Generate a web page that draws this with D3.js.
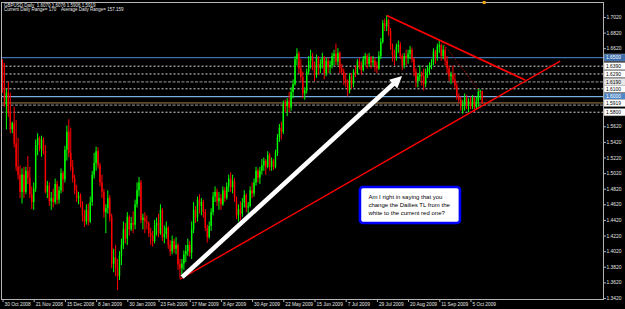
<!DOCTYPE html>
<html>
<head>
<meta charset="utf-8">
<script src="https://cdn.jsdelivr.net/npm/d3@7"></script>
<style>
body { margin: 0; background: #000; }
svg { display: block; }
</style>
</head>
<body>
<svg id="chart" width="625" height="309"></svg>
<script>
// GBPUSD daily, 30 Oct 2008 .. 13 Oct 2009 (one entry per trading day)
var opens = [
  1.645,1.612,1.590,1.605,1.580,1.558,1.566,1.540,1.510,1.500,
  1.478,1.500,1.478,1.505,1.496,1.475,1.465,1.482,1.538,1.547,
  1.533,1.545,1.530,1.478,1.486,1.466,1.470,1.465,1.488,1.468,
  1.480,1.502,1.494,1.532,1.555,1.528,1.510,1.495,1.480,1.470,
  1.473,1.462,1.448,1.440,1.455,1.440,1.465,1.500,1.515,1.530,
  1.512,1.490,1.478,1.452,1.457,1.470,1.446,1.386,1.394,1.380,
  1.370,1.396,1.410,1.430,1.418,1.446,1.430,1.438,1.436,1.462,
  1.480,1.490,1.442,1.445,1.440,1.438,1.425,1.422,1.415,1.435,
  1.438,1.425,1.455,1.420,1.424,1.432,1.410,1.402,1.415,1.405,
  1.410,1.385,1.380,1.386,1.398,1.402,1.410,1.400,1.430,1.455,
  1.445,1.468,1.460,1.465,1.452,1.432,1.420,1.434,1.452,1.472,
  1.478,1.466,1.470,1.462,1.480,1.470,1.485,1.495,1.484,1.492,
  1.470,1.448,1.456,1.450,1.464,1.474,1.458,1.460,1.480,1.476,
  1.490,1.505,1.496,1.505,1.512,1.518,1.510,1.525,1.510,1.518,
  1.510,1.528,1.548,1.560,1.555,1.590,1.588,1.594,1.586,1.606,
  1.616,1.648,1.655,1.636,1.625,1.604,1.608,1.632,1.646,1.652,
  1.640,1.628,1.650,1.636,1.642,1.650,1.630,1.646,1.638,1.640,
  1.652,1.655,1.645,1.656,1.636,1.632,1.622,1.618,1.608,1.626,
  1.616,1.632,1.630,1.645,1.640,1.634,1.648,1.652,1.642,1.650,
  1.644,1.646,1.640,1.636,1.652,1.670,1.694,1.690,1.698,1.684,
  1.665,1.652,1.650,1.664,1.666,1.652,1.640,1.652,1.650,1.655,
  1.660,1.648,1.632,1.620,1.626,1.628,1.626,1.616,1.632,1.636,
  1.640,1.644,1.658,1.650,1.664,1.666,1.652,1.660,1.646,1.636,
  1.626,1.628,1.622,1.614,1.600,1.596,1.588,1.590,1.598,1.590,
  1.594,1.588,1.598,1.586,1.594,1.606,1.6070
];
var highs = [
  1.648,1.643,1.610,1.619,1.605,1.568,1.587,1.570,1.547,1.512,
  1.508,1.510,1.510,1.524,1.510,1.485,1.490,1.545,1.553,1.549,
  1.550,1.548,1.538,1.492,1.490,1.478,1.482,1.495,1.492,1.485,
  1.508,1.505,1.537,1.563,1.571,1.560,1.519,1.500,1.487,1.478,
  1.476,1.466,1.455,1.462,1.463,1.472,1.505,1.528,1.536,1.535,
  1.515,1.500,1.482,1.462,1.480,1.474,1.450,1.405,1.410,1.392,
  1.402,1.418,1.440,1.438,1.452,1.448,1.446,1.453,1.468,1.490,
  1.497,1.493,1.450,1.452,1.448,1.440,1.432,1.428,1.442,1.445,
  1.450,1.462,1.457,1.435,1.440,1.434,1.416,1.422,1.418,1.420,
  1.412,1.392,1.392,1.403,1.410,1.418,1.415,1.440,1.465,1.460,
  1.472,1.475,1.470,1.468,1.456,1.436,1.440,1.457,1.478,1.485,
  1.482,1.478,1.475,1.485,1.484,1.490,1.500,1.503,1.500,1.496,
  1.472,1.462,1.466,1.470,1.480,1.476,1.465,1.485,1.490,1.495,
  1.510,1.508,1.510,1.520,1.522,1.520,1.530,1.528,1.522,1.520,
  1.532,1.552,1.565,1.568,1.595,1.596,1.598,1.606,1.612,1.622,
  1.652,1.662,1.658,1.648,1.632,1.612,1.636,1.652,1.660,1.656,
  1.645,1.654,1.652,1.648,1.656,1.652,1.650,1.650,1.646,1.656,
  1.660,1.668,1.662,1.658,1.642,1.636,1.630,1.622,1.630,1.630,
  1.635,1.640,1.648,1.650,1.645,1.652,1.656,1.655,1.656,1.652,
  1.652,1.650,1.645,1.658,1.675,1.698,1.700,1.704,1.700,1.688,
  1.668,1.660,1.668,1.672,1.670,1.655,1.656,1.660,1.660,1.665,
  1.663,1.650,1.636,1.630,1.640,1.632,1.636,1.636,1.640,1.644,
  1.648,1.662,1.660,1.668,1.672,1.668,1.666,1.664,1.652,1.640,
  1.632,1.640,1.630,1.618,1.604,1.600,1.596,1.604,1.602,1.598,
  1.600,1.602,1.600,1.600,1.610,1.609,1.6076
];
var lows = [
  1.605,1.587,1.558,1.574,1.553,1.553,1.535,1.505,1.494,1.470,
  1.463,1.470,1.475,1.488,1.470,1.456,1.455,1.478,1.525,1.530,
  1.523,1.526,1.476,1.470,1.460,1.455,1.458,1.462,1.462,1.463,
  1.476,1.478,1.490,1.518,1.522,1.505,1.490,1.475,1.465,1.462,
  1.458,1.440,1.433,1.436,1.435,1.438,1.460,1.495,1.505,1.508,
  1.485,1.470,1.445,1.425,1.450,1.440,1.380,1.375,1.370,1.352,
  1.365,1.384,1.405,1.412,1.410,1.422,1.428,1.425,1.430,1.458,
  1.472,1.438,1.430,1.425,1.430,1.420,1.410,1.408,1.412,1.422,
  1.420,1.423,1.415,1.412,1.418,1.405,1.396,1.398,1.400,1.398,
  1.378,1.367,1.372,1.378,1.388,1.396,1.395,1.392,1.425,1.438,
  1.440,1.450,1.448,1.445,1.428,1.413,1.418,1.428,1.448,1.465,
  1.460,1.455,1.455,1.460,1.465,1.468,1.478,1.478,1.476,1.465,
  1.443,1.440,1.442,1.446,1.458,1.452,1.450,1.458,1.470,1.472,
  1.486,1.490,1.488,1.500,1.505,1.500,1.508,1.505,1.505,1.506,
  1.508,1.524,1.542,1.545,1.552,1.580,1.575,1.580,1.582,1.598,
  1.614,1.640,1.630,1.620,1.598,1.596,1.604,1.628,1.636,1.634,
  1.620,1.624,1.628,1.630,1.636,1.622,1.626,1.630,1.630,1.636,
  1.640,1.640,1.640,1.630,1.628,1.615,1.612,1.600,1.604,1.610,
  1.612,1.625,1.628,1.635,1.628,1.632,1.640,1.636,1.638,1.636,
  1.638,1.632,1.630,1.634,1.648,1.668,1.684,1.684,1.678,1.660,
  1.645,1.640,1.646,1.656,1.648,1.634,1.636,1.640,1.642,1.648,
  1.644,1.626,1.612,1.612,1.620,1.614,1.608,1.612,1.624,1.628,
  1.635,1.640,1.642,1.646,1.656,1.646,1.648,1.640,1.630,1.620,
  1.616,1.618,1.610,1.596,1.592,1.582,1.578,1.582,1.584,1.580,
  1.584,1.584,1.580,1.584,1.586,1.596,1.5906
];
var closes = [
  1.612,1.595,1.605,1.580,1.558,1.566,1.540,1.510,1.500,1.478,
  1.500,1.478,1.505,1.496,1.475,1.465,1.482,1.538,1.547,1.533,
  1.545,1.530,1.478,1.486,1.466,1.470,1.465,1.488,1.468,1.480,
  1.502,1.494,1.532,1.555,1.528,1.510,1.495,1.480,1.470,1.473,
  1.462,1.448,1.440,1.455,1.440,1.465,1.500,1.515,1.530,1.512,
  1.490,1.478,1.452,1.457,1.470,1.446,1.386,1.394,1.380,1.370,
  1.396,1.410,1.430,1.418,1.446,1.430,1.438,1.436,1.462,1.480,
  1.490,1.442,1.445,1.440,1.438,1.425,1.422,1.415,1.435,1.438,
  1.425,1.455,1.420,1.424,1.432,1.410,1.402,1.415,1.405,1.410,
  1.385,1.380,1.386,1.398,1.402,1.410,1.400,1.430,1.455,1.445,
  1.468,1.460,1.465,1.452,1.432,1.420,1.434,1.452,1.472,1.478,
  1.466,1.470,1.462,1.480,1.470,1.485,1.495,1.484,1.492,1.470,
  1.448,1.456,1.450,1.464,1.474,1.458,1.460,1.480,1.476,1.490,
  1.505,1.496,1.505,1.512,1.518,1.510,1.525,1.510,1.518,1.510,
  1.528,1.548,1.560,1.555,1.590,1.588,1.594,1.586,1.606,1.616,
  1.648,1.655,1.636,1.625,1.604,1.608,1.632,1.646,1.652,1.640,
  1.628,1.650,1.636,1.642,1.650,1.630,1.646,1.638,1.640,1.652,
  1.655,1.645,1.656,1.636,1.632,1.622,1.618,1.608,1.626,1.616,
  1.632,1.630,1.645,1.640,1.634,1.648,1.652,1.642,1.650,1.644,
  1.646,1.640,1.636,1.652,1.670,1.694,1.690,1.698,1.684,1.665,
  1.652,1.650,1.664,1.666,1.652,1.640,1.652,1.650,1.655,1.660,
  1.648,1.632,1.620,1.626,1.628,1.626,1.616,1.632,1.636,1.640,
  1.644,1.658,1.650,1.664,1.666,1.652,1.660,1.646,1.636,1.626,
  1.628,1.622,1.614,1.600,1.596,1.588,1.590,1.598,1.590,1.594,
  1.588,1.598,1.586,1.594,1.606,1.607,1.5919
];

// time axis: bar index of each date label
var dateTicks = [0, 16, 32, 48, 64, 80, 96, 112, 128, 144, 160, 176, 192, 208, 224, 240];
var dateLabels = ['30 Oct 2008', '21 Nov 2008', '15 Dec 2008', '8 Jan 2009', '30 Jan 2009',
  '23 Feb 2009', '17 Mar 2009', '8 Apr 2009', '30 Apr 2009', '22 May 2009', '15 Jun 2009',
  '7 Jul 2009', '29 Jul 2009', '20 Aug 2009', '11 Sep 2009', '5 Oct 2009'];

// price axis
var priceTicks = [1.7020, 1.6820, 1.6620, 1.6420, 1.6220, 1.6020, 1.5820, 1.5620, 1.5420,
  1.5220, 1.5020, 1.4820, 1.4620, 1.4420, 1.4220, 1.4020, 1.3820, 1.3620, 1.3420];

// horizontal levels drawn on the chart
var levelPrices = [1.6500, 1.6390, 1.6290, 1.6190, 1.6100, 1.6000, 1.5919, 1.5890, 1.5800];
var levelKinds  = ['blue', 'dots', 'dots', 'gray', 'dots', 'lightblue', 'bid', 'gray', 'dots'];
var levelLabels = ['1.6500', '1.6390', '1.6290', '1.6190', '1.6100', '1.6000', '1.5919', null, '1.5800'];

// trend lines as [bar index, price] pairs
var resistanceTL = [[197, 1.704], [268, 1.6213]];
var supportTL = [[91, 1.366], [286, 1.6456]];
var steepTL = [[225.5, 1.6695], [248.5, 1.5945]];
var whiteArrow = [[92.1, 1.3687], [204.9, 1.6264]];

var headerLine1 = 'GBPUSD,Daily  1.6070 1.6076 1.5906 1.5919';
var headerLine2 = 'Current Daily Range= 170    Average Daily Range= 157.159';
var noteLines = ['Am I right in saying that you', 'change the Dailies TL from the', 'white to the current red one?'];
var noteAnchor = [183.3, 1.4842];

var font = 'Liberation Sans, Arial, sans-serif';
var levelStyle = {
  blue:      { stroke: '#3d6fae', dash: null,  w: 1.3, box: '#3d6fae', txt: '#fff' },
  lightblue: { stroke: '#78aee0', dash: null,  w: 1.3, box: '#4f86c6', txt: '#fff' },
  dots:      { stroke: '#d8d8d8', dash: '2,2', w: 1,   box: '#fff',    txt: '#000' },
  gray:      { stroke: '#7c7c7c', dash: '3,1.5', w: 1.3, box: '#e8e8e8', txt: '#000' },
  bid:       { stroke: '#a58552', dash: null,  w: 1,   box: '#fff',    txt: '#000' }
};

var svg = d3.select('#chart');
svg.append('rect').attr('width', 625).attr('height', 309).attr('fill', '#000');

var x = d3.scaleLinear().domain([0, 308]).range([2.5, 603.1]);
var y = d3.scaleLinear().domain([1.342, 1.702]).range([298, 17]);

svg.append('clipPath').attr('id', 'plot')
  .append('rect').attr('x', 1.5).attr('y', 2.5).attr('width', 602).attr('height', 297);

var plot = svg.append('g').attr('clip-path', 'url(#plot)');

// horizontal levels
levelPrices.forEach(function (p, i) {
  var s = levelStyle[levelKinds[i]];
  plot.append('line')
    .attr('x1', 1.5).attr('x2', 603.5)
    .attr('y1', y(p)).attr('y2', y(p))
    .attr('stroke', s.stroke).attr('stroke-width', s.w)
    .attr('stroke-dasharray', s.dash);
});

// candles
var bars = d3.range(closes.length);
var candle = plot.append('g').selectAll('g').data(bars).join('g');
candle.append('line')
  .attr('x1', function (i) { return x(i); })
  .attr('x2', function (i) { return x(i); })
  .attr('y1', function (i) { return y(highs[i]); })
  .attr('y2', function (i) { return y(lows[i]); })
  .attr('stroke', function (i) { return closes[i] >= opens[i] ? '#00ff00' : '#ff0000'; })
  .attr('stroke-width', 1);
candle.append('rect')
  .attr('x', function (i) { return x(i) - 0.7; })
  .attr('width', 1.4)
  .attr('y', function (i) { return y(Math.max(opens[i], closes[i])); })
  .attr('height', function (i) { return Math.max(1, Math.abs(y(opens[i]) - y(closes[i]))); })
  .attr('fill', function (i) { return closes[i] >= opens[i] ? '#00ff00' : '#ff0000'; });

// trend lines
function tl(pts, color, w, dash) {
  plot.append('line')
    .attr('x1', x(pts[0][0])).attr('y1', y(pts[0][1]))
    .attr('x2', x(pts[1][0])).attr('y2', y(pts[1][1]))
    .attr('stroke', color).attr('stroke-width', w)
    .attr('stroke-dasharray', dash);
}
tl(steepTL, '#a00000', 1, '1.5,1.5');
tl(resistanceTL, '#ff0000', 1.7, null);
tl(supportTL, '#ff0000', 1.4, null);

// white arrow
var ax0 = x(whiteArrow[0][0]), ay0 = y(whiteArrow[0][1]);
var ax1 = x(whiteArrow[1][0]), ay1 = y(whiteArrow[1][1]);
var len = Math.hypot(ax1 - ax0, ay1 - ay0), ux = (ax1 - ax0) / len, uy = (ay1 - ay0) / len;
var head = 12, half = 6;
plot.append('line')
  .attr('x1', ax0).attr('y1', ay0)
  .attr('x2', ax1 - ux * (head - 2)).attr('y2', ay1 - uy * (head - 2))
  .attr('stroke', '#fff').attr('stroke-width', 4.5);
plot.append('polygon')
  .attr('points', [
    [ax1, ay1],
    [ax1 - ux * head - uy * half, ay1 - uy * head + ux * half],
    [ax1 - ux * head + uy * half, ay1 - uy * head - ux * half]
  ].map(function (p) { return p.join(','); }).join(' '))
  .attr('fill', '#fff');

// note box
var nx = x(noteAnchor[0]), ny = y(noteAnchor[1]);
svg.append('rect')
  .attr('x', nx).attr('y', ny).attr('width', 100).attr('height', 36)
  .attr('rx', 3).attr('fill', '#fff').attr('stroke', '#0000ff').attr('stroke-width', 2.6);
svg.append('g').selectAll('text').data(noteLines).join('text')
  .attr('x', nx + 8.5)
  .attr('y', function (d, i) { return ny + 12 + i * 8; })
  .attr('font-family', font).attr('font-size', 6).attr('fill', '#000')
  .text(function (d) { return d; });

// frame
svg.append('rect')
  .attr('x', 1.5).attr('y', 2.5).attr('width', 602).attr('height', 297)
  .attr('fill', 'none').attr('stroke', '#b4b4b4').attr('stroke-width', 1);

// price axis (labels sitting under a level tag are hidden, as in the terminal)
var tagged = levelPrices.filter(function (p, i) { return levelLabels[i]; });
var gy = svg.append('g').attr('transform', 'translate(603.5,0)')
  .call(d3.axisRight(y).tickValues(priceTicks).tickSize(2.5).tickFormat(d3.format('.4f')));
gy.select('.domain').remove();
gy.attr('font-family', font).attr('font-size', 4.9);
gy.selectAll('line').attr('stroke', '#b4b4b4');
gy.selectAll('text').attr('fill', '#e6e6e6').attr('x', 3);
gy.selectAll('.tick').filter(function (d) {
  return tagged.some(function (p) { return Math.abs(y(p) - y(d)) < 5; });
}).select('text').remove();

// level price tags
levelPrices.forEach(function (p, i) {
  if (!levelLabels[i]) return;
  var s = levelStyle[levelKinds[i]];
  svg.append('rect')
    .attr('x', 604).attr('y', y(p) - 3.6).attr('width', 22).attr('height', 7.2)
    .attr('fill', s.box).attr('stroke', '#9a9a9a').attr('stroke-width', 0.5);
  svg.append('text')
    .attr('x', 606).attr('y', y(p) + 1.8)
    .attr('font-family', font).attr('font-size', 4.9).attr('fill', s.txt)
    .text(levelLabels[i]);
});

// time axis
var gx = svg.append('g').attr('transform', 'translate(0,299.5)')
  .call(d3.axisBottom(x).tickValues(dateTicks).tickSize(2.5)
    .tickFormat(function (d, i) { return dateLabels[i]; }));
gx.select('.domain').remove();
gx.attr('font-family', font).attr('font-size', 4.8);
gx.selectAll('line').attr('stroke', '#b4b4b4');
gx.selectAll('text').attr('fill', '#e6e6e6').attr('text-anchor', 'start').attr('x', 1.5).attr('y', 3.5);

// header
svg.append('text').attr('x', 4).attr('y', 6.6)
  .attr('font-family', font).attr('font-size', 4.5).attr('fill', '#e6e6e6').attr('xml:space', 'preserve')
  .text(headerLine1);
svg.append('text').attr('x', 4).attr('y', 11.2)
  .attr('font-family', font).attr('font-size', 4.5).attr('fill', '#e6e6e6').attr('xml:space', 'preserve')
  .text(headerLine2);

// current bar marker
svg.append('rect').attr('x', x(246) + 0.5).attr('y', 1).attr('width', 3).attr('height', 3).attr('fill', '#f0a000');
</script>
</body>
</html>
